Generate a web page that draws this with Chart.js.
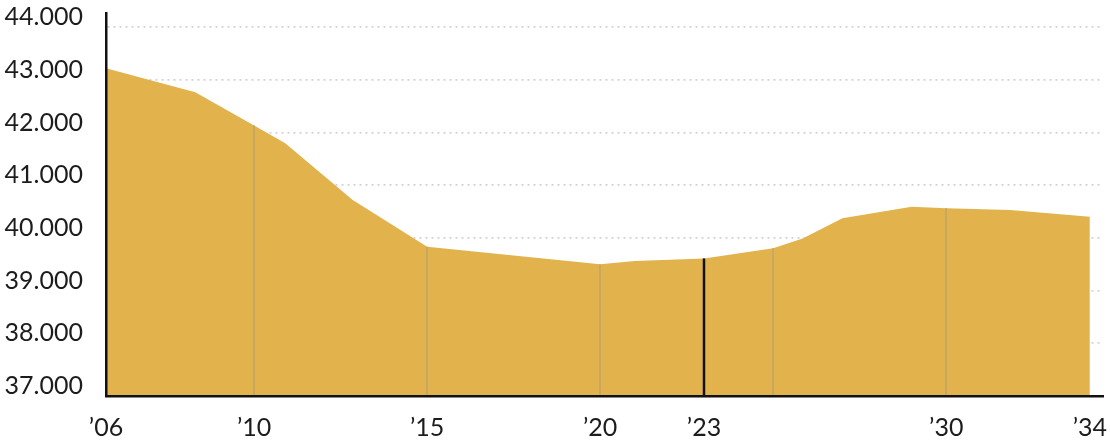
<!DOCTYPE html>
<html>
<head>
<meta charset="utf-8">
<script src="https://cdn.jsdelivr.net/npm/chart.js@4.4.1/dist/chart.umd.min.js"></script>
<style>
    html, body { margin: 0; padding: 0; background: #fff; }
    #wrap { width: 1110px; height: 446px; }
</style>
</head>
<body>
<div id="wrap"><canvas id="chart"></canvas></div>
<script>
// Years (positions of the vertices) and values
var years = [2005.72, 2008.3, 2010, 2010.9, 2012.85, 2015, 2020, 2021, 2023, 2025, 2025.85, 2027, 2029, 2030, 2031.85, 2034.15];
var values = [43216, 42761, 42130, 41793, 40717, 39831, 39500, 39560, 39610, 39801, 39990, 40370, 40590, 40560, 40527, 40400];

// x-axis ticks
var tickValues = [2005.72, 2010, 2015, 2020, 2023, 2030, 2034.15];
var tickLabels = ["\u201906", "\u201910", "\u201915", "\u201920", "\u201923", "\u201930", "\u201934"];

// y-axis ticks
var yTicks = [37000, 38000, 39000, 40000, 41000, 42000, 43000, 44000];

// vertical lines inside the area
var markerYears = [2010, 2015, 2020, 2025, 2030];
var currentYear = 2023;

function formatThousands(v) {
    return String(v / 1000) + ".000";
}

// labels may hang outside the chart area, don't let them shrink it
function noLabelPadding(scale) {
    scale.paddingLeft = 0;
    scale.paddingRight = 0;
    scale.paddingTop = 0;
    scale.paddingBottom = 0;
}

// draws the thin lines from the area down to the axis
var markerLines = {
    id: "markerLines",
    afterDatasetsDraw: function (chart) {
        var ctx = chart.ctx;
        var meta = chart.getDatasetMeta(0);
        var bottom = chart.chartArea.bottom;
        ctx.save();
        markerYears.forEach(function (yr) {
            var pt = meta.data[years.indexOf(yr)];
            ctx.beginPath();
            ctx.strokeStyle = "#c8a760";
            ctx.lineWidth = 2;
            ctx.moveTo(Math.round(pt.x), pt.y);
            ctx.lineTo(Math.round(pt.x), bottom);
            ctx.stroke();
        });
        var cur = meta.data[years.indexOf(currentYear)];
        ctx.beginPath();
        ctx.strokeStyle = "#111";
        ctx.lineWidth = 2.5;
        ctx.moveTo(cur.x, cur.y);
        ctx.lineTo(cur.x, bottom);
        ctx.stroke();
        ctx.restore();
    }
};

var tickFont = { family: "Lato", size: 25, weight: "normal" };

new Chart(document.getElementById("chart").getContext("2d"), {
    type: "line",
    data: {
        datasets: [
            {
                data: years.map(function (y, i) { return { x: y, y: values[i] }; }),
                fill: "start",
                backgroundColor: "#e2b34d",
                borderWidth: 0,
                pointRadius: 0,
                tension: 0,
            },
        ],
    },
    options: {
        responsive: true,
        maintainAspectRatio: false,
        animation: false,
        layout: { padding: { top: 13, right: 7, left: 0, bottom: 0 } },
        plugins: {
            legend: { display: false },
            tooltip: { enabled: false },
        },
        scales: {
            x: {
                type: "linear",
                min: 2005.72,
                max: 2034.53,
                grid: { display: false, drawTicks: false },
                border: { display: true, color: "#111", width: 2.5, z: 1 },
                ticks: {
                    autoSkip: false,
                    maxRotation: 0,
                    padding: 17,
                    color: "#1c1c1c",
                    font: tickFont,
                    callback: function (value) {
                        return tickLabels[tickValues.indexOf(value)];
                    },
                },
                afterBuildTicks: function (scale) {
                    scale.ticks = tickValues.map(function (v) { return { value: v }; });
                },
                afterFit: function (scale) {
                    scale.height = 50;
                    noLabelPadding(scale);
                },
            },
            y: {
                min: 37000,
                max: 44266,
                grid: { color: "#d2d2da", lineWidth: 1.8, drawTicks: false },
                border: { display: true, color: "#111", width: 2.5, z: 1, dash: [2, 4] },
                ticks: {
                    padding: 23,
                    labelOffset: -10,
                    color: "#1c1c1c",
                    font: tickFont,
                    callback: function (value) {
                        return formatThousands(value);
                    },
                },
                afterBuildTicks: function (scale) {
                    scale.ticks = yTicks.map(function (v) { return { value: v }; });
                },
                afterFit: function (scale) {
                    scale.width = 106;
                    noLabelPadding(scale);
                },
            },
        },
    },
    plugins: [markerLines],
});
</script>
</body>
</html>
